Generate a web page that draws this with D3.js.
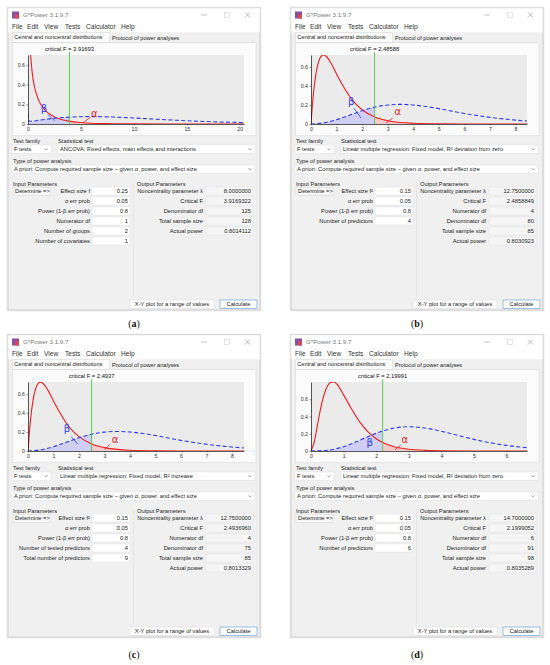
<!DOCTYPE html>
<html>
<head>
<meta charset="utf-8">
<script src="https://cdn.jsdelivr.net/npm/d3@7"></script>
<style>
  body { margin: 0; background: #fff; }
  text { font-family: 'Liberation Sans', Arial, sans-serif; fill: #222; }
</style>
</head>
<body>
<svg id="fig" width="550" height="665"></svg>
<script>
var panels = ["a", "b", "c", "d"];
var critF = [3.91693, 2.48588, 2.4937, 2.19991];
var critText = ["critical F = 3.91693", "critical F = 2.48588", "critical F = 2.4937", "critical F = 2.19991"];
var xMax = [20.4, 8.45, 8.47, 6.63];
var yMax = [0.70, 0.727, 0.728, 0.80];
var xTicks = [[0, 5, 10, 15, 20], [0, 1, 2, 3, 4, 5, 6, 7, 8], [0, 1, 2, 3, 4, 5, 6, 7, 8], [0, 1, 2, 3, 4, 5, 6]];
var yTicks = [0, 0.2, 0.4, 0.6];

// central F (red) and noncentral F (blue) densities, [F, density]
var centralA = [[0.10, 1.20], [0.15, 0.95], [0.20, 0.80], [0.25, 0.70], [0.30, 0.63], [0.40, 0.52], [0.50, 0.44], [0.75, 0.32], [1, 0.242], [1.5, 0.154], [2, 0.104], [2.5, 0.072], [3, 0.051], [4, 0.027], [5, 0.015], [6, 0.008], [8, 0.003], [10, 0.001], [13, 0.0002], [20.4, 0]];
var noncentralA = [[0.005, 0.105], [0.03, 0.046], [0.1, 0.031], [0.3, 0.028], [0.6, 0.031], [1, 0.038], [1.5, 0.045], [2, 0.052], [3, 0.063], [4, 0.070], [5, 0.074], [6, 0.075], [7, 0.074], [8, 0.071], [10, 0.061], [12, 0.049], [14, 0.038], [16, 0.028], [18, 0.021], [20.4, 0.014]];
var centralB = [[0, 0], [0.05, 0.185], [0.1, 0.333], [0.2, 0.540], [0.3, 0.658], [0.4, 0.714], [0.5, 0.727], [0.6, 0.711], [0.8, 0.632], [1, 0.528], [1.25, 0.402], [1.5, 0.295], [1.75, 0.212], [2, 0.150], [2.5, 0.073], [3, 0.035], [3.5, 0.016], [4, 0.008], [5, 0.002], [6, 0.0004], [8.45, 0]];
var noncentralB = [[0, 0], [0.5, 0.013], [1, 0.045], [1.5, 0.092], [2, 0.140], [2.5, 0.178], [3, 0.200], [3.5, 0.207], [4, 0.200], [4.5, 0.184], [5, 0.162], [5.5, 0.136], [6, 0.111], [7, 0.070], [8, 0.041], [8.45, 0.031]];
var centralC = [[0, 0], [0.05, 0.185], [0.1, 0.333], [0.2, 0.540], [0.3, 0.658], [0.4, 0.714], [0.5, 0.727], [0.6, 0.711], [0.8, 0.632], [1, 0.528], [1.25, 0.403], [1.5, 0.296], [1.75, 0.213], [2, 0.151], [2.5, 0.074], [3, 0.036], [3.5, 0.017], [4, 0.008], [5, 0.002], [6, 0.0005], [8.47, 0]];
var noncentralC = [[0, 0], [0.5, 0.013], [1, 0.045], [1.5, 0.092], [2, 0.139], [2.5, 0.177], [3, 0.199], [3.5, 0.206], [4, 0.200], [4.5, 0.185], [5, 0.163], [5.5, 0.137], [6, 0.112], [7, 0.071], [8, 0.042], [8.47, 0.032]];
var centralD = [[0, 0], [0.1, 0.105], [0.2, 0.305], [0.3, 0.501], [0.4, 0.653], [0.5, 0.750], [0.6, 0.796], [0.7, 0.800], [0.8, 0.774], [1, 0.651], [1.25, 0.483], [1.5, 0.334], [1.75, 0.221], [2, 0.142], [2.5, 0.055], [3, 0.021], [3.5, 0.0075], [4, 0.0027], [5, 0.0004], [6.63, 0]];
var noncentralD = [[0, 0], [0.5, 0.009], [1, 0.050], [1.5, 0.125], [2, 0.205], [2.5, 0.262], [3, 0.281], [3.5, 0.266], [4, 0.229], [4.5, 0.182], [5, 0.135], [5.5, 0.096], [6, 0.065], [6.63, 0.038]];
var centralSeries = [centralA, centralB, centralC, centralD];
var noncentralSeries = [noncentralA, noncentralB, noncentralC, noncentralD];

// form contents
var testFamily = "F tests";
var statTests = ["ANCOVA: Fixed effects, main effects and interactions",
  "Linear multiple regression: Fixed model, R\u00b2 deviation from zero",
  "Linear multiple regression: Fixed model, R\u00b2 increase",
  "Linear multiple regression: Fixed model, R\u00b2 deviation from zero"];
var powerType = "A priori: Compute required sample size \u2013 given \u03b1, power, and effect size";
var inputLabels = [
  ["Effect size f", "\u03b1 err prob", "Power (1-\u03b2 err prob)", "Numerator df", "Number of groups", "Number of covariates"],
  ["Effect size f\u00b2", "\u03b1 err prob", "Power (1-\u03b2 err prob)", "Number of predictors"],
  ["Effect size f\u00b2", "\u03b1 err prob", "Power (1-\u03b2 err prob)", "Number of tested predictors", "Total number of predictors"],
  ["Effect size f\u00b2", "\u03b1 err prob", "Power (1-\u03b2 err prob)", "Number of predictors"]];
var inputValues = [
  ["0.25", "0.05", "0.8", "1", "2", "1"],
  ["0.15", "0.05", "0.8", "4"],
  ["0.15", "0.05", "0.8", "4", "9"],
  ["0.15", "0.05", "0.8", "6"]];
var outputLabels = [
  ["Noncentrality parameter \u03bb", "Critical F", "Denominator df", "Total sample size", "Actual power"],
  ["Noncentrality parameter \u03bb", "Critical F", "Numerator df", "Denominator df", "Total sample size", "Actual power"],
  ["Noncentrality parameter \u03bb", "Critical F", "Numerator df", "Denominator df", "Total sample size", "Actual power"],
  ["Noncentrality parameter \u03bb", "Critical F", "Numerator df", "Denominator df", "Total sample size", "Actual power"]];
var outputValues = [
  ["8.0000000", "3.9169322", "125", "128", "0.8014112"],
  ["12.7500000", "2.4858849", "4", "80", "85", "0.8030923"],
  ["12.7500000", "2.4936960", "4", "75", "85", "0.8013329"],
  ["14.7000000", "2.1999052", "6", "91", "98", "0.8035289"]];
var menuItems = ["File", "Edit", "View", "Tests", "Calculator", "Help"];

// ---- layout ----
var winX = [8, 291, 8, 291], winY = [8, 8, 335, 335];
var labelY = [326.5, 326.5, 657.5, 657.5];
var W = 252, H = 302;
var pl = 20, pr = 236, pt = 47, pb = 116;
var menuX = [4, 19, 36, 57, 78, 113];
// greek labels in data units: [x, y] of glyph, and optional pointer segment
var betaMarks = [
  { at: [1.5, 0.16], line: [[1.86, 0.095], [2.55, 0.034]] },
  { at: [1.57, 0.24], line: [[1.68, 0.166], [1.96, 0.062]] },
  { at: [1.53, 0.234], line: [[1.69, 0.153], [1.95, 0.071]] },
  { at: [1.80, 0.097], line: null }];
var alphaMarks = [
  { at: [6.25, 0.109], line: [[5.9, 0.068], [5.2, 0.013]] },
  { at: [3.40, 0.127], line: [[3.19, 0.062], [2.94, 0.013]] },
  { at: [3.41, 0.124], line: [[3.22, 0.071], [3.0, 0.018]] },
  { at: [2.88, 0.135], line: [[2.75, 0.069], [2.58, 0.012]] }];

var svg = d3.select("#fig");
var defs = svg.append("defs");
var fs = 5.75;

function chevron(g, x, y) {
  g.append("path").attr("d", "M" + (x - 1.6) + "," + (y - 0.8) + "l1.6,1.6l1.6,-1.6")
    .attr("fill", "none").attr("stroke", "#666").attr("stroke-width", 0.5);
}

function drawChrome(g) {
  g.append("rect").attr("x", -0.8).attr("y", -0.8).attr("width", W + 1.6).attr("height", H + 1.6)
    .attr("fill", "none").attr("stroke", "#e4e4e4").attr("stroke-width", 1);
  g.append("rect").attr("width", W).attr("height", H).attr("fill", "#f0f0f0")
    .attr("stroke", "#b9b9b9").attr("stroke-width", 0.6);
  g.append("rect").attr("x", 0.3).attr("y", 0.3).attr("width", W - 0.6).attr("height", 24).attr("fill", "#fff");

  // app icon
  g.append("rect").attr("x", 4).attr("y", 3.5).attr("width", 7).attr("height", 7).attr("fill", "#8a4f9e");
  g.append("rect").attr("x", 7.5).attr("y", 6.5).attr("width", 3.5).attr("height", 4).attr("fill", "#e24a4a");
  g.append("text").attr("x", 15).attr("y", 9.4).attr("font-size", 6.2).style("fill", "#777").text("G*Power 3.1.9.7");

  // window controls
  g.append("line").attr("x1", 193).attr("x2", 199).attr("y1", 7).attr("y2", 7).attr("stroke", "#888").attr("stroke-width", 0.5);
  g.append("rect").attr("x", 216.5).attr("y", 4.5).attr("width", 5).attr("height", 5).attr("fill", "none").attr("stroke", "#ccc").attr("stroke-width", 0.5);
  g.append("path").attr("d", "M237,4.5l5,5M242,4.5l-5,5").attr("stroke", "#777").attr("stroke-width", 0.5);

  // menu bar
  g.selectAll("text.menu").data(menuItems).enter().append("text").attr("class", "menu")
    .attr("x", function (d, k) { return menuX[k]; }).attr("y", 21.2).attr("font-size", 6.6)
    .style("fill", "#333").text(function (d) { return d; });

  // tabs
  g.append("rect").attr("x", 4.5).attr("y", 24.8).attr("width", 97).attr("height", 10).attr("fill", "#fbfbfb")
    .attr("stroke", "#d4d4d4").attr("stroke-width", 0.5);
  g.append("text").attr("x", 6.3).attr("y", 31.4).attr("font-size", 5.6).text("Central and noncentral distributions");
  g.append("text").attr("x", 104).attr("y", 31.9).attr("font-size", 5.6).text("Protocol of power analyses");

  // graph panel
  g.append("rect").attr("x", 4.5).attr("y", 34.8).attr("width", 243.5).attr("height", 93).attr("fill", "#fbfbfb")
    .attr("stroke", "#d4d4d4").attr("stroke-width", 0.5);
}

function drawPlot(g, i) {
  var p = panels[i];
  var x = d3.scaleLinear().domain([0, xMax[i]]).range([pl, pr]);
  var y = d3.scaleLinear().domain([0, yMax[i]]).range([pb, pt]);
  var cx = x(critF[i]);

  function clip(id, x0, x1) {
    defs.append("clipPath").attr("id", id).append("rect")
      .attr("x", x0).attr("y", pt).attr("width", x1 - x0).attr("height", pb - pt);
    return "url(#" + id + ")";
  }
  var clipAll = clip("all-" + p, pl, pr);
  var clipBeta = clip("beta-" + p, pl, cx);
  var clipAlpha = clip("alpha-" + p, cx, pr);

  g.append("rect").attr("x", pl).attr("y", pt).attr("width", pr - pl).attr("height", pb - pt).attr("fill", "#ebebeb");

  var line = d3.line().x(function (d) { return x(d[0]); }).y(function (d) { return y(d[1]); }).curve(d3.curveMonotoneX);
  var area = d3.area().x(function (d) { return x(d[0]); }).y0(pb).y1(function (d) { return y(d[1]); }).curve(d3.curveMonotoneX);

  var plot = g.append("g").attr("clip-path", clipAll);
  plot.append("path").datum(noncentralSeries[i]).attr("d", area).attr("clip-path", clipBeta)
    .attr("fill", "#cfcff6");
  plot.append("path").datum(centralSeries[i]).attr("d", area).attr("clip-path", clipAlpha)
    .attr("fill", "#f3c9c9");
  plot.append("path").datum(centralSeries[i]).attr("d", line)
    .attr("fill", "none").attr("stroke", "#f21c1c").attr("stroke-width", 1.1);
  plot.append("path").datum(noncentralSeries[i]).attr("d", line)
    .attr("fill", "none").attr("stroke", "#2f3cf2").attr("stroke-width", 1.1).attr("stroke-dasharray", "4,2.4");

  // critical value
  g.append("line").attr("x1", cx).attr("x2", cx).attr("y1", pt - 3).attr("y2", pb)
    .attr("stroke", "#3fd13f").attr("stroke-width", 0.9);
  g.append("text").attr("x", cx).attr("y", 43.2).attr("text-anchor", "middle").attr("font-size", 5.8)
    .style("fill", "#111").text(critText[i]);

  // axes
  var ax = g.append("g").attr("transform", "translate(0," + pb + ")")
    .call(d3.axisBottom(x).tickValues(xTicks[i]).tickSize(1.5).tickSizeOuter(0).tickPadding(1.5)
      .tickFormat(d3.format("d")));
  var ay = g.append("g").attr("transform", "translate(" + pl + ",0)")
    .call(d3.axisLeft(y).tickValues(yTicks).tickSize(1.5).tickSizeOuter(0).tickPadding(1.5)
      .tickFormat(function (d) { return d === 0 ? "0" : d3.format(".1f")(d); }));
  [ax, ay].forEach(function (a) {
    a.selectAll("text").attr("font-size", 5.2).style("fill", "#333").attr("font-family", null);
    a.selectAll("line").attr("stroke", "#333").attr("stroke-width", 0.5);
    a.select(".domain").attr("stroke", "#111").attr("stroke-width", 0.7);
  });

  // beta / alpha markers
  var marks = [[betaMarks[i], "\u03b2", "#2f3cf2"], [alphaMarks[i], "\u03b1", "#f21c1c"]];
  marks.forEach(function (m) {
    var mk = m[0];
    if (mk.line) {
      g.append("line").attr("x1", x(mk.line[0][0])).attr("y1", y(mk.line[0][1]))
        .attr("x2", x(mk.line[1][0])).attr("y2", y(mk.line[1][1]))
        .attr("stroke", m[2]).attr("stroke-width", 0.8);
    }
    g.append("text").attr("x", x(mk.at[0])).attr("y", y(mk.at[1]) + 3.4).attr("text-anchor", "middle")
      .attr("font-size", 10).style("font-family", "'DejaVu Sans', sans-serif").style("fill", m[2]).text(m[1]);
  });
}

function drawForm(g, i) {
  g.append("text").attr("x", 5).attr("y", 135).attr("font-size", fs).text("Test family");
  g.append("text").attr("x", 50).attr("y", 135).attr("font-size", fs).text("Statistical test");

  function dropdown(x0, w, y0, label) {
    g.append("rect").attr("x", x0).attr("y", y0).attr("width", w).attr("height", 8.5)
      .attr("fill", "#fff").attr("stroke", "#d6d6d6").attr("stroke-width", 0.4);
    g.append("text").attr("x", x0 + 2).attr("y", y0 + 6.3).attr("font-size", fs).text(label);
    chevron(g, x0 + w - 5, y0 + 4.2);
  }
  dropdown(4, 39, 137, testFamily);
  dropdown(50, 197, 137, statTests[i]);
  g.append("text").attr("x", 5).attr("y", 155).attr("font-size", fs).text("Type of power analysis");
  dropdown(4, 243, 157, powerType);

  g.append("text").attr("x", 5).attr("y", 178).attr("font-size", fs).text("Input Parameters");
  g.append("text").attr("x", 129).attr("y", 178).attr("font-size", fs).text("Output Parameters");
  g.append("line").attr("x1", 125.5).attr("x2", 125.5).attr("y1", 175).attr("y2", 289)
    .attr("stroke", "#dadada").attr("stroke-width", 0.5);

  // determine button
  g.append("rect").attr("x", 5).attr("y", 179.2).attr("width", 37).attr("height", 8)
    .attr("fill", "#f7f7f7").attr("stroke", "#d0d0d0").attr("stroke-width", 0.4);
  g.append("text").attr("x", 7).attr("y", 185.2).attr("font-size", fs).text("Determine =>");

  var rowY = function (k) { return 183 + k * 10; };
  inputLabels[i].forEach(function (lab, k) {
    var cy = rowY(k);
    g.append("text").attr("x", 82).attr("y", cy + 2).attr("text-anchor", "end").attr("font-size", fs).text(lab);
    g.append("rect").attr("x", 84).attr("y", cy - 4).attr("width", 38).attr("height", 8)
      .attr("fill", "#fff").attr("stroke", "#dcdcdc").attr("stroke-width", 0.4);
    g.append("text").attr("x", 120).attr("y", cy + 2).attr("text-anchor", "end").attr("font-size", fs).text(inputValues[i][k]);
  });
  outputLabels[i].forEach(function (lab, k) {
    var cy = rowY(k);
    g.append("text").attr("x", 195).attr("y", cy + 2).attr("text-anchor", "end").attr("font-size", fs).text(lab);
    g.append("rect").attr("x", 198).attr("y", cy - 4).attr("width", 47).attr("height", 8)
      .attr("fill", "#f5f5f5").attr("stroke", "#dedede").attr("stroke-width", 0.4);
    g.append("text").attr("x", 243).attr("y", cy + 2).attr("text-anchor", "end").attr("font-size", fs).text(outputValues[i][k]);
  });

  // buttons
  g.append("rect").attr("x", 122).attr("y", 292).attr("width", 84).attr("height", 8.5)
    .attr("fill", "#fdfdfd").attr("stroke", "#d0d0d0").attr("stroke-width", 0.4);
  g.append("text").attr("x", 164).attr("y", 298.2).attr("text-anchor", "middle").attr("font-size", fs).text("X-Y plot for a range of values");
  g.append("rect").attr("x", 212).attr("y", 292).attr("width", 37).attr("height", 8.5)
    .attr("fill", "#fdfdfd").attr("stroke", "#5b9bd8").attr("stroke-width", 0.6);
  g.append("text").attr("x", 230.5).attr("y", 298.2).attr("text-anchor", "middle").attr("font-size", fs).text("Calculate");
}

panels.forEach(function (p, i) {
  var g = svg.append("g").attr("transform", "translate(" + winX[i] + "," + winY[i] + ")");
  drawChrome(g);
  drawPlot(g, i);
  drawForm(g, i);

  var lab = svg.append("text").attr("x", winX[i] + 126).attr("y", labelY[i])
    .attr("text-anchor", "middle").attr("font-size", 10)
    .style("font-family", "'Liberation Serif', 'DejaVu Serif', serif").style("fill", "#111");
  lab.append("tspan").text("(");
  lab.append("tspan").attr("font-weight", "bold").text(p);
  lab.append("tspan").text(")");
});
</script>
</body>
</html>
